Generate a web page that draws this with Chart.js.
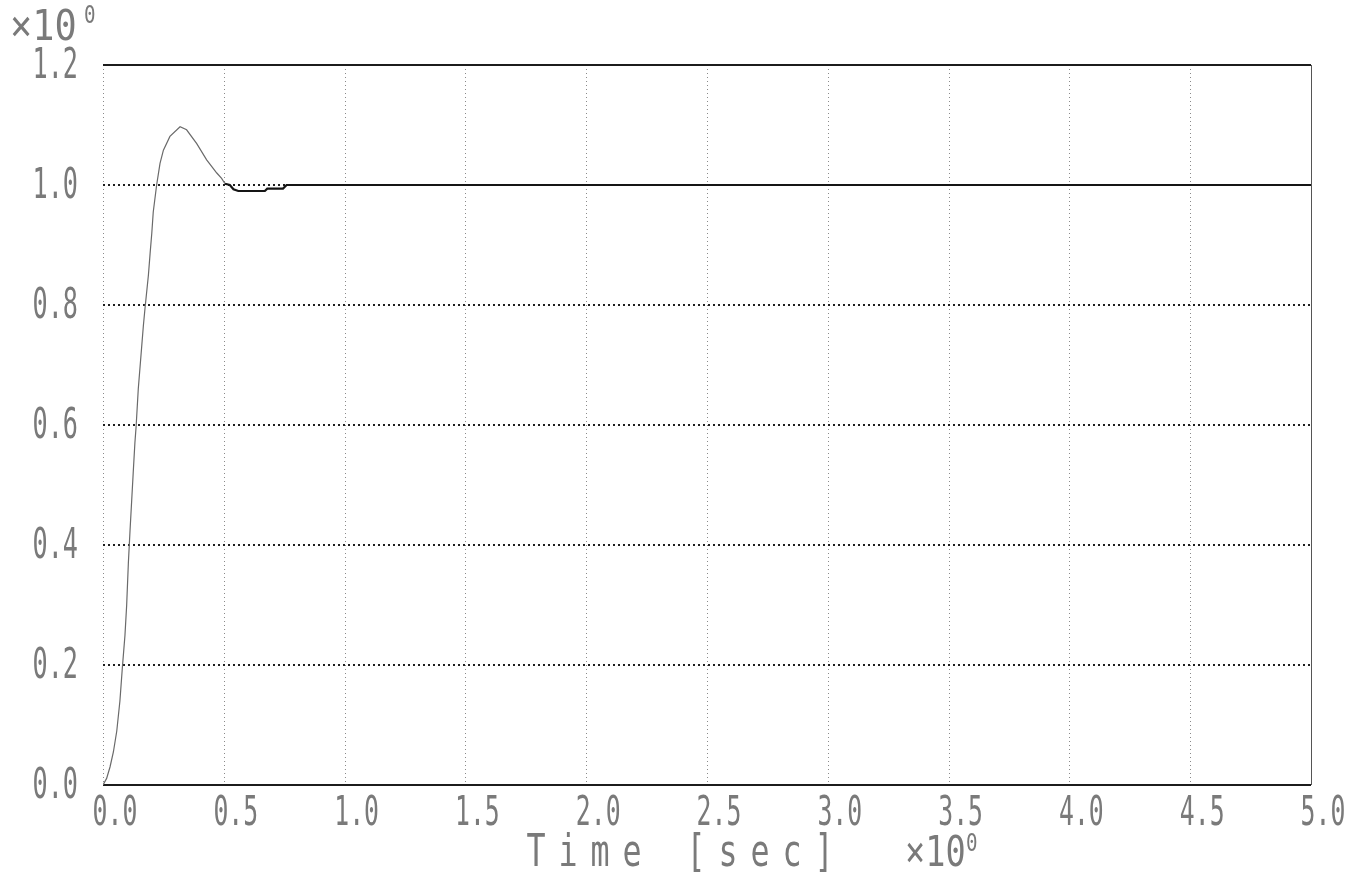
<!DOCTYPE html>
<html>
<head>
<meta charset="utf-8">
<script src="https://cdn.jsdelivr.net/npm/chart.js@4/dist/chart.umd.min.js"></script>
<style>
  html, body { margin: 0; padding: 0; background: #ffffff; }
  #wrap { width: 1366px; height: 884px; position: relative; }
</style>
</head>
<body>
<div id="wrap"><canvas id="c"></canvas></div>
<script>
// Step response samples: time in seconds and output amplitude
const timeSec = [
  0.000, 0.015, 0.029, 0.043, 0.057, 0.070, 0.080, 0.091, 0.098, 0.105,
  0.112, 0.125, 0.132, 0.137, 0.146, 0.160, 0.167, 0.174, 0.188, 0.195,
  0.202, 0.208, 0.222, 0.236, 0.250, 0.277, 0.319, 0.346, 0.388, 0.429,
  0.471, 0.491, 0.505, 0.525, 0.540, 0.560, 0.670, 0.680, 0.745, 0.760,
  5.000
];
const response = [
  0.000, 0.011, 0.030, 0.055, 0.090, 0.140, 0.195, 0.250, 0.300, 0.370,
  0.425, 0.520, 0.570, 0.597, 0.660, 0.730, 0.765, 0.795, 0.850, 0.886,
  0.920, 0.955, 1.000, 1.036, 1.058, 1.081, 1.097, 1.092, 1.069, 1.042,
  1.020, 1.011, 1.002, 1.000, 0.993, 0.990, 0.990, 0.994, 0.994, 1.000,
  1.000
];

// Axis tick labels
const xTickLabels = ['0.0', '0.5', '1.0', '1.5', '2.0', '2.5', '3.0', '3.5', '4.0', '4.5', '5.0'];
const yTickLabels = ['0.0', '0.2', '0.4', '0.6', '0.8', '1.0', '1.2'];
const xAxisTitle = 'Time [sec]';
const scaleExponent = '0';

const points = timeSec.map((t, i) => ({ x: t, y: response[i] }));

const FONT = '"DejaVu Sans Mono", "Liberation Mono", monospace';
const TEXT_COLOR = '#7a7a7a';

// Draws monospaced text squeezed horizontally (tall, narrow plotter glyphs)
function narrowText(ctx, str, x, y, size, sx, align) {
  ctx.save();
  ctx.font = size + 'px ' + FONT;
  ctx.fillStyle = TEXT_COLOR;
  ctx.textBaseline = 'middle';
  ctx.textAlign = align;
  ctx.translate(x, y);
  ctx.scale(sx, 1);
  ctx.fillText(str, 0, 0);
  ctx.restore();
}

const frame = {
  id: 'plotterFrame',
  beforeDatasetsDraw(chart) {
    const { ctx, chartArea: a, scales: { x, y } } = chart;
    ctx.save();
    // vertical grid: fine light dots
    ctx.strokeStyle = '#8a8a8a';
    ctx.lineWidth = 1;
    ctx.setLineDash([1, 3]);
    xTickLabels.forEach(l => {
      const px = Math.round(x.getPixelForValue(parseFloat(l))) + 0.5;
      ctx.beginPath(); ctx.moveTo(px, a.top); ctx.lineTo(px, a.bottom); ctx.stroke();
    });
    // horizontal grid: heavier dots
    ctx.strokeStyle = '#1e1e1e';
    ctx.lineWidth = 2;
    ctx.setLineDash([2, 3]);
    yTickLabels.forEach(l => {
      const py = Math.round(y.getPixelForValue(parseFloat(l)));
      ctx.beginPath(); ctx.moveTo(a.left, py); ctx.lineTo(a.right, py); ctx.stroke();
    });
    ctx.setLineDash([]);
    // solid top / bottom frame and right edge
    ctx.strokeStyle = '#1c1c1c';
    ctx.lineWidth = 2;
    ctx.beginPath();
    ctx.moveTo(a.left, a.top); ctx.lineTo(a.right, a.top);
    ctx.moveTo(a.left, a.bottom); ctx.lineTo(a.right, a.bottom);
    ctx.stroke();
    ctx.strokeStyle = '#555';
    ctx.lineWidth = 1;
    ctx.beginPath();
    ctx.moveTo(a.right + 0.5, a.top); ctx.lineTo(a.right + 0.5, a.bottom);
    ctx.stroke();
    ctx.restore();
  },
  afterDraw(chart) {
    const { ctx, chartArea: a, scales: { x, y } } = chart;
    // y tick labels
    yTickLabels.forEach(l => {
      narrowText(ctx, l, 78, y.getPixelForValue(parseFloat(l)) + 2, 42, 0.6, 'right');
    });
    // x tick labels
    xTickLabels.forEach(l => {
      narrowText(ctx, l, x.getPixelForValue(parseFloat(l)) + 12, a.bottom + 30, 40, 0.62, 'center');
    });
    // x axis title, spaced characters
    const chars = xAxisTitle.split('');
    chars.forEach((ch, i) => {
      if (ch !== ' ') narrowText(ctx, ch, 536 + i * 32, a.bottom + 70, 44, 0.72, 'center');
    });
    // exponent marks
    narrowText(ctx, '×10', 10, 29, 42, 0.88, 'left');
    narrowText(ctx, scaleExponent, 84, 17, 24, 0.8, 'left');
    narrowText(ctx, '×10', 905, a.bottom + 70, 42, 0.8, 'left');
    narrowText(ctx, scaleExponent, 966, a.bottom + 60, 24, 0.8, 'left');
  }
};

new Chart(document.getElementById('c'), {
  type: 'line',
  data: {
    datasets: [{
      data: points,
      borderColor: '#555',
      borderWidth: 1.2,
      pointRadius: 0,
      tension: 0,
      fill: false,
      segment: {
        borderColor: c => c.p0.parsed.x >= 0.5 ? '#151515' : '#6a6a6a',
        borderWidth: c => c.p0.parsed.x >= 0.5 ? 2.2 : 1.2
      }
    }]
  },
  options: {
    responsive: true,
    maintainAspectRatio: false,
    animation: false,
    layout: { padding: { left: 103, right: 55, top: 65, bottom: 99 } },
    plugins: { legend: { display: false }, tooltip: { enabled: false } },
    scales: {
      x: { type: 'linear', min: 0, max: 5, display: false },
      y: { type: 'linear', min: 0, max: 1.2, display: false }
    }
  },
  plugins: [frame]
});
</script>
</body>
</html>
